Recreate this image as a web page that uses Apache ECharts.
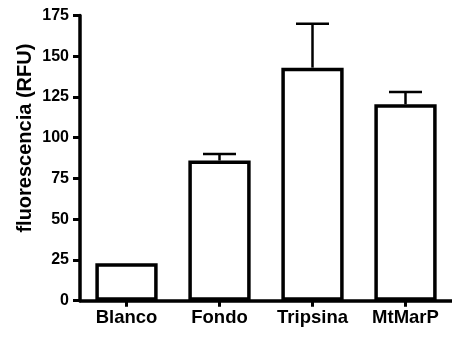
<!DOCTYPE html>
<html>
<head>
<meta charset="utf-8">
<script src="https://cdn.jsdelivr.net/npm/echarts@6/dist/echarts.min.js"></script>
<style>
html,body{margin:0;padding:0;background:#fff;}
#chart{width:452px;height:339px;}
</style>
</head>
<body>
<div id="chart"></div>
<script>
var categories = ['Blanco', 'Fondo', 'Tripsina', 'MtMarP'];
var means = [23, 86, 143, 120.5];
var errors = [0, 4, 27, 7.5];
var yTicks = [0, 25, 50, 75, 100, 125, 150, 175];
var yName = 'fluorescencia (RFU)';

var FONT = '"Liberation Sans", Arial, Helvetica, sans-serif';
var chart = echarts.init(document.getElementById('chart'), null, {renderer: 'canvas'});

var errData = categories.map(function (c, i) { return [i, means[i], means[i] + errors[i]]; });

chart.setOption({
  animation: false,
  backgroundColor: '#fff',
  grid: {left: 80, right: -3, top: 15.5, bottom: 38.3, containLabel: false},
  xAxis: {
    type: 'category',
    data: categories,
    axisLine: {show: true, lineStyle: {color: '#000', width: 3.5}},
    axisTick: {show: true, alignWithLabel: true, length: 6, lineStyle: {color: '#000', width: 3}},
    axisLabel: {color: '#000', fontFamily: FONT, fontWeight: 'bold', fontSize: 18.5, margin: 8},
    splitLine: {show: false}
  },
  yAxis: {
    type: 'value',
    min: yTicks[0],
    max: yTicks[yTicks.length - 1],
    interval: 25,
    name: yName,
    nameLocation: 'middle',
    nameGap: 45,
    nameMoveOverlap: false,
    nameTextStyle: {color: '#000', fontFamily: FONT, fontWeight: 'bold', fontSize: 20, padding: [0, 0, 0, 40]},
    axisLine: {show: true, lineStyle: {color: '#000', width: 3.5}},
    axisTick: {show: true, length: 7, lineStyle: {color: '#000', width: 3}},
    axisLabel: {color: '#000', fontFamily: FONT, fontWeight: 'bold', fontSize: 16, margin: 11},
    splitLine: {show: false}
  },
  series: [
    {
      type: 'bar',
      data: means,
      barWidth: '67%',
      itemStyle: {color: '#fff', borderColor: '#000', borderWidth: 3.5},
      z: 2
    },
    {
      type: 'custom',
      data: errData,
      z: 3,
      renderItem: function (params, api) {
        if (errors[api.value(0)] === 0) return null;
        var base = api.coord([api.value(0), api.value(1)]);
        var top = api.coord([api.value(0), api.value(2)]);
        var hw = 16.5;
        var st = {stroke: '#000', lineWidth: 2.5};
        return {
          type: 'group',
          children: [
            {type: 'line', shape: {x1: base[0], y1: base[1], x2: top[0], y2: top[1]}, style: st},
            {type: 'line', shape: {x1: top[0] - hw, y1: top[1], x2: top[0] + hw, y2: top[1]}, style: st}
          ]
        };
      }
    }
  ]
});
</script>
</body>
</html>
